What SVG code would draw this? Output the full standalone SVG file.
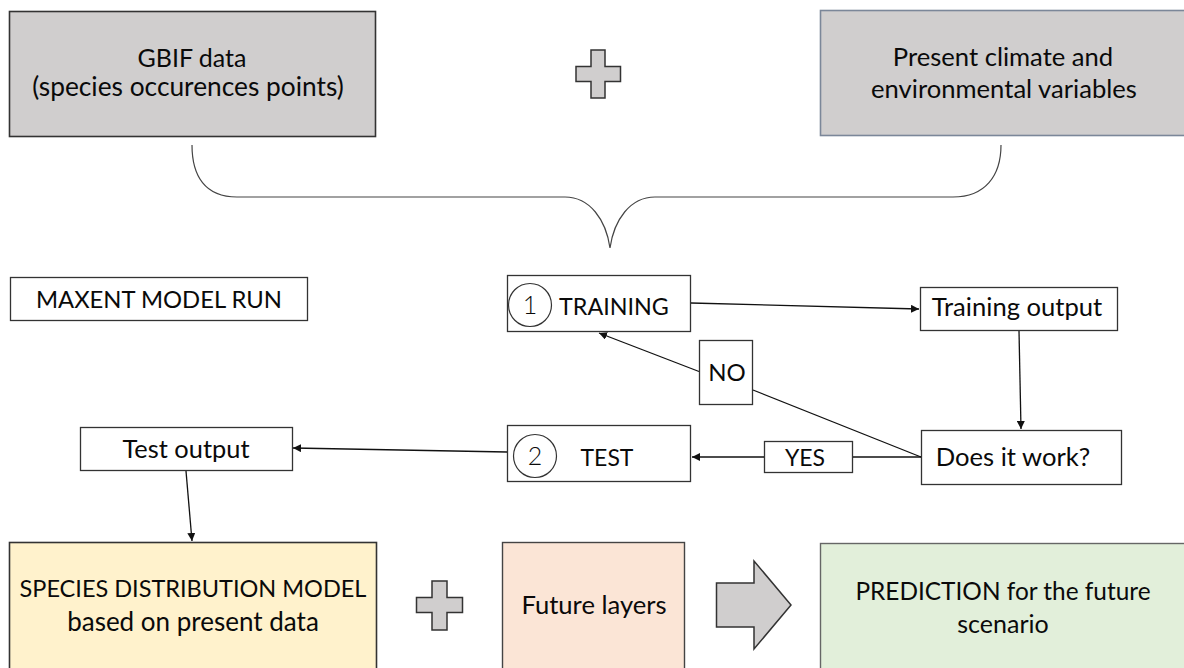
<svg xmlns="http://www.w3.org/2000/svg" width="1184" height="668" viewBox="0 0 1184 668">
  <style>
    text { font-family: Lato, "Open Sans", "Liberation Sans", sans-serif; fill: #0a0a0a; text-anchor: middle; font-size: 25.6px; }
    .caps { font-size: 23.5px; }
    .box { fill: #ffffff; stroke: #333; stroke-width: 1.3; }
    .grey { fill: #d0cece; }
    .shape { fill: #d0cece; stroke: #333; stroke-width: 1.5; stroke-linejoin: miter; }
    .edge { fill: none; stroke: #111; stroke-width: 1.3; }
    .num { fill: none; stroke: #333; stroke-width: 1.2; }
    .numtxt { font-size: 25px; font-weight: 300; }
  </style>
  <defs>
    <marker id="arrow" viewBox="0 0 10 10" refX="10" refY="5" markerWidth="8" markerHeight="8" markerUnits="userSpaceOnUse" orient="auto">
      <path d="M0,0 L10,5 L0,10 z" fill="#111"/>
    </marker>
  </defs>

  <rect width="1184" height="668" fill="#ffffff"/>

  <!-- input data -->
  <g id="gbif">
    <rect x="9.5" y="11.5" width="366" height="125" class="grey" stroke="#333" stroke-width="1.6"/>
    <text x="192" y="67" style="font-size:25px">GBIF data</text>
    <text x="188" y="96" style="font-size:26.3px">(species occurences points)</text>
  </g>

  <g id="plus-top">
    <path class="shape" d="M591,50 H605 V66.5 H620.5 V81.5 H605 V98 H591 V81.5 H576 V66.5 H591 Z"/>
  </g>

  <g id="climate">
    <rect x="820.5" y="10.5" width="370" height="125" class="grey" stroke="#7b8799" stroke-width="1.6"/>
    <text x="1003" y="66">Present climate and</text>
    <text x="1004" y="98">environmental variables</text>
  </g>

  <!-- curly brace joining both inputs -->
  <g id="brace">
    <path d="M192,145 C192,176 205,197 237,197 L565,197 C590,197 606,220 610,248 C614,220 630,197 655,197 L953,197 C985,197 1001,176 1001,145" fill="none" stroke="#444" stroke-width="1.2"/>
  </g>

  <g id="maxent">
    <rect x="10.5" y="277.5" width="297" height="43" class="box"/>
    <text x="159" y="308" style="font-size:23.8px">MAXENT MODEL RUN</text>
  </g>

  <g id="training">
    <rect x="507.5" y="275.5" width="183" height="56" class="box"/>
    <circle cx="530" cy="305" r="21.5" class="num"/>
    <text x="530" y="314" class="numtxt">1</text>
    <text x="614" y="315" style="font-size:23.3px">TRAINING</text>
  </g>

  <g id="training-output">
    <rect x="920.5" y="287.5" width="197" height="43" class="box"/>
    <text x="1017" y="316">Training output</text>
  </g>

  <g id="no-label">
    <rect x="699.5" y="340.5" width="53" height="64" class="box"/>
    <text x="727" y="381" style="font-size:24px">NO</text>
  </g>

  <g id="test">
    <rect x="507.5" y="425.5" width="183" height="56" class="box"/>
    <circle cx="535" cy="456" r="21.5" class="num"/>
    <text x="535" y="465" class="numtxt">2</text>
    <text x="607" y="466" style="font-size:23px">TEST</text>
  </g>

  <g id="yes-label">
    <rect x="764.5" y="441.5" width="88" height="31" class="box"/>
    <text x="805" y="466" style="font-size:23px">YES</text>
  </g>

  <g id="check">
    <rect x="921.5" y="430.5" width="200" height="54" class="box"/>
    <text x="1013" y="466">Does it work?</text>
  </g>

  <g id="test-output">
    <rect x="80.5" y="427.5" width="212" height="43" class="box"/>
    <text x="186" y="458" style="font-size:25.4px">Test output</text>
  </g>

  <!-- results row -->
  <g id="sdm">
    <rect x="9.5" y="542.5" width="367" height="130" fill="#fff2cc" stroke="#333" stroke-width="1.6"/>
    <text x="193" y="597" class="caps">SPECIES DISTRIBUTION MODEL</text>
    <text x="193" y="631" style="font-size:26px">based on present data</text>
  </g>

  <g id="plus-bottom">
    <path class="shape" d="M432,581 H447 V597.5 H462.5 V612.5 H447 V630 H432 V612.5 H416.5 V597.5 H432 Z"/>
  </g>

  <g id="future">
    <rect x="502.5" y="542.5" width="182" height="130" fill="#fbe5d6" stroke="#444" stroke-width="1.4"/>
    <text x="594" y="614">Future layers</text>
  </g>

  <g id="big-arrow">
    <path class="shape" d="M716.5,583 H754 V561 L791,605 L754,649 V627 H716.5 Z"/>
  </g>

  <g id="prediction">
    <rect x="820.5" y="543.5" width="370" height="130" fill="#e2efda" stroke="#666" stroke-width="1.4"/>
    <text x="1003" y="600" style="font-size:24.4px">PREDICTION for the future</text>
    <text x="1003" y="633" style="font-size:25px">scenario</text>
  </g>

  <!-- connectors -->
  <g id="connectors">
    <line x1="691" y1="303" x2="919" y2="309" class="edge" marker-end="url(#arrow)"/>
    <line x1="1019" y1="331" x2="1021" y2="429" class="edge" marker-end="url(#arrow)"/>
    <line x1="921" y1="457" x2="753" y2="390" class="edge"/>
    <line x1="699" y1="371.5" x2="599" y2="333" class="edge" marker-end="url(#arrow)"/>
    <line x1="921" y1="457" x2="853" y2="457" class="edge"/>
    <line x1="764" y1="457" x2="692" y2="457" class="edge" marker-end="url(#arrow)"/>
    <line x1="507" y1="452" x2="293" y2="448" class="edge" marker-end="url(#arrow)"/>
    <line x1="186" y1="471" x2="192" y2="541" class="edge" marker-end="url(#arrow)"/>
  </g>
</svg>
